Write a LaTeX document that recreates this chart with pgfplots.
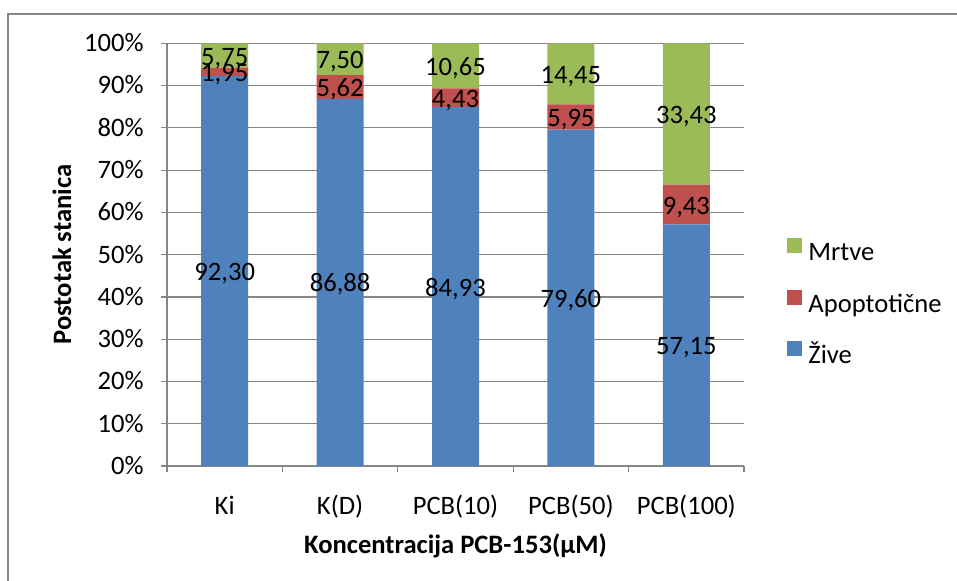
\documentclass[border=0pt]{standalone}
\usepackage{pgfplots}
\pgfplotsset{compat=1.18}
\usepackage{fontspec}
\setmainfont{Carlito}
\definecolor{cblue}{HTML}{4F81BD}
\definecolor{cred}{HTML}{C0504D}
\definecolor{cgreen}{HTML}{9BBB59}
\definecolor{gridgray}{HTML}{868686}
\pgfplotsset{
  sqlegend/.style={legend image code/.code={\fill[##1,draw=none] (0pt,0.5pt) rectangle (7.5pt,8pt);}},
}
\pgfplotstableread{
x zive apo mrtve
0 92.30 1.95 5.75
1 86.88 5.62 7.50
2 84.93 4.43 10.65
3 79.60 5.95 14.45
4 57.15 9.43 33.43
}\datatable
\begin{document}
\fontsize{13.3}{16}\selectfont
\begin{tikzpicture}
\useasboundingbox (0,0) rectangle (478.5pt,290pt);
\draw[color=gridgray, line width=0.7pt] (4pt,-5pt) -- (4pt,283pt) -- (490pt,283pt);
\begin{axis}[
  at={(83.5pt,57pt)}, anchor=south west,
  scale only axis, width=288.5pt, height=211.35pt,
  ybar stacked, bar width=23.5pt,
  xmin=-0.5, xmax=4.5, ymin=0, ymax=100,
  xtick={-0.5,0.5,1.5,2.5,3.5,4.5},
  x tick label as interval,
  xticklabels={Ki,K(D),PCB(10),PCB(50),PCB(100)},
  ytick={0,10,...,100},
  yticklabels={0\%,10\%,20\%,30\%,40\%,50\%,60\%,70\%,80\%,90\%,100\%},
  axis lines*=left,
  axis line style={gridgray, line width=0.6pt},
  tick style={gridgray, line width=0.6pt},
  tick align=outside, major tick length=3pt,
  ymajorgrids, major grid style={gridgray, line width=0.6pt},
  xticklabel style={anchor=base, inner sep=0pt, yshift=-21pt},
  yticklabel style={anchor=base east, inner sep=0pt, xshift=-8.5pt, yshift=-4.2pt},
  xlabel={\textbf{Koncentracija PCB-153(µM)}},
  ylabel={\textbf{Postotak stanica}},
  xlabel style={at={(axis description cs:0.5,-0.189)}, anchor=center},
  ylabel style={at={(axis description cs:-0.182,0.5)}, anchor=center},
  legend style={draw=none, fill=none, at={(1.0745,0.383)}, anchor=west, inner sep=0pt,
    nodes={inner sep=0pt, text height=9.5pt, text depth=3pt}, row sep=11.5pt, column sep=3pt},
  legend cell align=left,
  reverse legend,
]
\addplot[fill=cblue, draw=none, sqlegend] table[x=x, y=zive] {\datatable};
\addlegendentry{Žive}
\addplot[fill=cred, draw=none, sqlegend] table[x=x, y=apo] {\datatable};
\addlegendentry{Apoptotične}
\addplot[fill=cgreen, draw=none, sqlegend] table[x=x, y=mrtve] {\datatable};
\addlegendentry{Mrtve}
\end{axis}
\begin{axis}[
  at={(83.5pt,57pt)}, anchor=south west,
  scale only axis, width=288.5pt, height=211.35pt,
  xmin=-0.5, xmax=4.5, ymin=0, ymax=100,
  hide axis, clip=false,
]
\addplot[draw=none, mark=none, nodes near coords, point meta=explicit symbolic,
  every node near coord/.append style={text=black, inner sep=0pt, anchor=base, yshift=-4.8pt}]
  table[meta=lab] {
x y lab
0 46.15 92,30
0 93.275 1,95
0 97.125 5,75
1 43.44 86,88
1 89.69 5,62
1 96.25 7,50
2 42.465 84,93
2 87.145 4,43
2 94.685 10,65
3 39.80 79,60
3 82.575 5,95
3 92.775 14,45
4 28.575 57,15
4 61.865 9,43
4 83.295 33,43
};
\end{axis}
\end{tikzpicture}
\end{document}
